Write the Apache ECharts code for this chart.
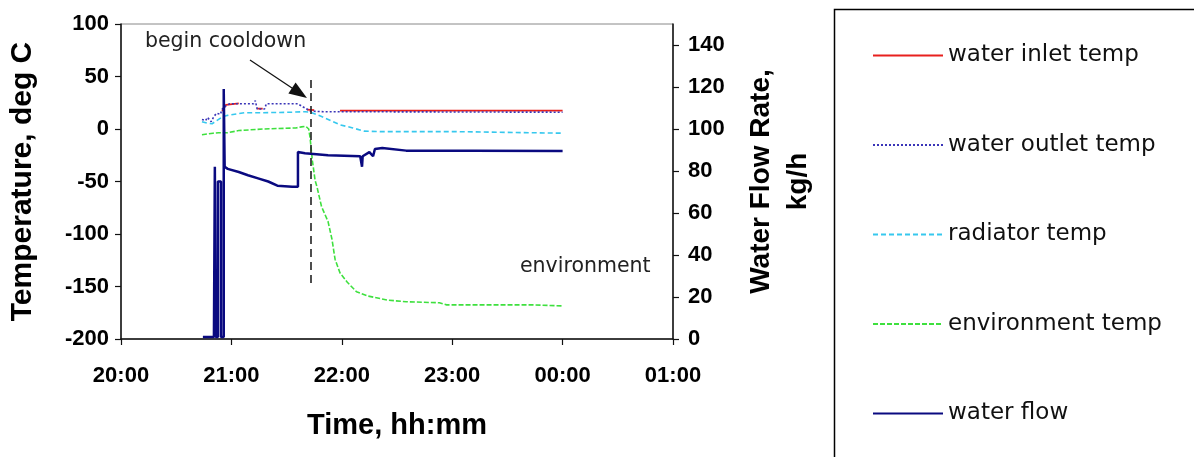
<!DOCTYPE html>
<html><head><meta charset="utf-8">
<script src="https://cdn.jsdelivr.net/npm/echarts@6/dist/echarts.min.js"></script>
<style>html,body{margin:0;padding:0;background:#fff}#c{width:1194px;height:457px}</style>
</head><body><div id="c"></div><script>
// ---- data ----
const seriesNames = ['water inlet temp', 'water outlet temp', 'radiator temp', 'environment temp', 'water flow'];
const xTickLabels = ['20:00', '21:00', '22:00', '23:00', '00:00', '01:00'];
const flowTicks = [0, 20, 40, 60, 80, 100, 120, 140];
const annotationTexts = ['begin cooldown', 'environment'];

const inletTime = ['20:55', '20:57', '20:58', '21:04', '21:04:30', '21:14', '21:17', '21:17:30', '21:41', '21:45', '21:45:30', '21:59', '00:00'];
const inletTemp = [17, 23, 24.5, 24.5, null, 19.5, 19.5, null, 18.5, 18, null, 17.5, 17.5];

const outletTime = ['20:44', '20:46', '20:47', '20:49', '20:50:30', '20:52', '20:54', '20:55', '20:57', '20:59', '21:12', '21:13', '21:14', '21:18', '21:19', '21:36', '21:39', '21:41', '21:43', '21:50', '00:00'];
const outletTemp = [9, 8, 11, 7, 12, 15, 14, 19, 22, 24, 24, 27, 19, 19, 24, 24, 21, 19, 17, 16.5, 16];

const radiatorTime = ['20:44', '20:47', '20:49:30', '20:52', '20:55', '20:58', '21:07', '21:17', '21:33', '21:40', '21:43', '21:49', '21:54', '21:59', '22:06', '22:12', '22:21', '23:02', '23:03', '00:00'];
const radiatorTemp = [7, 5.5, 5, 8, 11.5, 13, 15.5, 15.5, 16, 16.5, 16, 12, 8, 4, 1, -2, -2.5, -2.5, -4, -4];

const envTime = ['20:44', '20:50', '20:53', '20:58', '21:04', '21:17', '21:35', '21:38', '21:40:30', '21:42', '21:42:45', '21:44', '21:45:30', '21:46:30', '21:49', '21:52:30', '21:54:40', '21:56:20', '21:59', '22:03', '22:08', '22:14', '22:25', '22:35', '22:53', '22:57', '23:44', '00:00'];
const envTemp = [-5.5, -4, -3.5, -3.5, -1.5, 0, 1, 2, 2.5, 0, -8, -30, -49, -55, -74, -88, -105, -124, -137, -146, -155, -159, -163, -164.5, -165.5, -167.5, -167.5, -168.5];

const flowTime = ['20:44:30', '20:50:30', '20:51:00', '20:51:00', '20:51:30', '20:51:30', '20:52:40', '20:52:40', '20:54:20', '20:54:20', '20:55:50', '20:55:50', '20:56:20', '20:56:20', '20:58', '21:04', '21:09', '21:14:30', '21:20', '21:25', '21:33', '21:36:10', '21:36:10', '21:40', '21:52:30', '22:10', '22:11', '22:11', '22:11:20', '22:15', '22:17', '22:18', '22:22', '22:35', '23:11', '00:00'];
const flowRate = [1, 1, 1, 82, 82, 1, 1, 75, 75, 1, 1, 119, 119, 82, 81, 79.5, 78, 76.5, 75, 73, 72.5, 72.5, 89, 88.5, 87.5, 87, 87, 82, 87, 89, 87, 90.5, 91, 89.7, 89.7, 89.5];

// annotation anchors (time, temperature)
const cooldownLine = [['21:43:18', 46.7], ['21:43:18', -148.6]];
const arrowLine = [['21:10:06', 65.7], ['21:37:00', 34.3]];
const textAnchors = [['20:13', 83], ['23:36:50', -131.3]];

// ---- helpers ----
function toHours(s) {
  const p = s.split(':').map(Number);
  let h = p[0] + (p[1] || 0) / 60 + (p[2] || 0) / 3600;
  if (p[0] < 12) h += 24;
  return h;
}
function pairs(times, vals) {
  return times.map((t, i) => [toHours(t), vals[i] === null ? '-' : vals[i]]);
}

const labelFont = { fontFamily: 'Liberation Sans', fontWeight: 'bold', fontSize: 22, color: '#000' };
const axisLineStyle = { show: true, onZero: false, lineStyle: { color: '#111', width: 1.5 } };
const tickStyle = { show: true, inside: false, length: 6, lineStyle: { color: '#111', width: 1.2 } };
const annFont = { fontFamily: 'DejaVu Sans', fontSize: 20.5, color: '#222' };

const chart = echarts.init(document.getElementById('c'), null, { renderer: 'canvas' });
chart.setOption({
  animation: false,
  backgroundColor: '#fff',
  grid: { left: 121, right: 521, top: 24, bottom: 118, show: true, borderColor: '#888', borderWidth: 1, backgroundColor: '#fff', containLabel: false, outerBoundsMode: 'none' },
  legend: {
    orient: 'vertical', left: 872, top: 43.5, padding: 0,
    itemWidth: 70, itemHeight: 24, itemGap: 65.5,
    selectedMode: false,
    itemStyle: { opacity: 0, borderWidth: 0 },
    textStyle: { fontFamily: 'DejaVu Sans', fontSize: 23, lineHeight: 24, color: '#111' },
    data: seriesNames
  },
  graphic: [{
    type: 'rect', left: 832, top: 7, silent: true,
    shape: { width: 420, height: 520 },
    style: { fill: 'none', stroke: '#000', lineWidth: 1.5 }
  }],
  xAxis: {
    type: 'value', min: 20, max: 25, interval: 1,
    name: 'Time, hh:mm', nameLocation: 'middle', nameGap: 72.5,
    nameTextStyle: { fontFamily: 'Liberation Sans', fontWeight: 'bold', fontSize: 29, lineHeight: 29, color: '#000' },
    axisLine: axisLineStyle, axisTick: tickStyle, splitLine: { show: false },
    axisLabel: Object.assign({ margin: 26, formatter: v => xTickLabels[Math.round(v - 20)] }, labelFont)
  },
  yAxis: [{
    type: 'value', min: -200, max: 100, interval: 50, position: 'left',
    name: 'Temperature, deg C', nameLocation: 'middle', nameGap: 83,
    nameTextStyle: { fontFamily: 'Liberation Sans', fontWeight: 'bold', fontSize: 30, lineHeight: 30, color: '#000' },
    axisLine: axisLineStyle, axisTick: tickStyle, splitLine: { show: false },
    axisLabel: Object.assign({ margin: 12 }, labelFont)
  }, {
    type: 'value', min: 0, max: 150, interval: 10, position: 'right',
    name: 'Water Flow Rate,\nkg/h', nameLocation: 'middle', nameGap: 69.5,
    nameTextStyle: { fontFamily: 'Liberation Sans', fontWeight: 'bold', fontSize: 28, lineHeight: 37, color: '#000', align: 'center' },
    axisLine: axisLineStyle,
    axisTick: Object.assign({ customValues: flowTicks }, tickStyle),
    splitLine: { show: false },
    axisLabel: Object.assign({ margin: 15, customValues: flowTicks }, labelFont)
  }],
  series: [
    {
      name: seriesNames[0], type: 'line', yAxisIndex: 0, symbol: 'none', connectNulls: false,
      lineStyle: { color: '#E8201E', width: 1.8 }, itemStyle: { color: '#E8201E' },
      data: pairs(inletTime, inletTemp), z: 2
    },
    {
      name: seriesNames[1], type: 'line', yAxisIndex: 0, symbol: 'none',
      lineStyle: { color: '#3A35B8', width: 1.6, type: [2, 2] }, itemStyle: { color: '#3A35B8' },
      data: pairs(outletTime, outletTemp), z: 3,
      markLine: {
        silent: true, animation: false, symbol: ['none', 'none'], label: { show: false },
        emphasis: { disabled: true },
        data: [
          [{ coord: [toHours(cooldownLine[0][0]), cooldownLine[0][1]], lineStyle: { color: '#222', width: 1.6, type: [8, 5] } },
           { coord: [toHours(cooldownLine[1][0]), cooldownLine[1][1]] }],
          [{ coord: [toHours(arrowLine[0][0]), arrowLine[0][1]], symbol: 'none', lineStyle: { color: '#111', width: 1.2, type: 'solid' } },
           { coord: [toHours(arrowLine[1][0]), arrowLine[1][1]], symbol: 'triangle', symbolSize: [13, 18], itemStyle: { color: '#000' } }]
        ]
      },
      markPoint: {
        silent: true, animation: false,
        data: textAnchors.map((a, i) => ({
          coord: [toHours(a[0]), a[1]], symbol: 'circle', symbolSize: 0,
          label: Object.assign({ show: true, position: 'right', distance: 0, formatter: annotationTexts[i] }, annFont)
        }))
      }
    },
    {
      name: seriesNames[2], type: 'line', yAxisIndex: 0, symbol: 'none',
      lineStyle: { color: '#36C8EE', width: 1.6, type: [5, 3] }, itemStyle: { color: '#36C8EE' },
      data: pairs(radiatorTime, radiatorTemp), z: 2
    },
    {
      name: seriesNames[3], type: 'line', yAxisIndex: 0, symbol: 'none',
      lineStyle: { color: '#3EE03E', width: 1.6, type: [5, 2] }, itemStyle: { color: '#3EE03E' },
      data: pairs(envTime, envTemp), z: 2
    },
    {
      name: seriesNames[4], type: 'line', yAxisIndex: 1, symbol: 'none',
      lineStyle: { color: '#0A0A80', width: 2.5 }, itemStyle: { color: '#0A0A80' },
      data: pairs(flowTime, flowRate), z: 4
    }
  ]
});
</script></body></html>
